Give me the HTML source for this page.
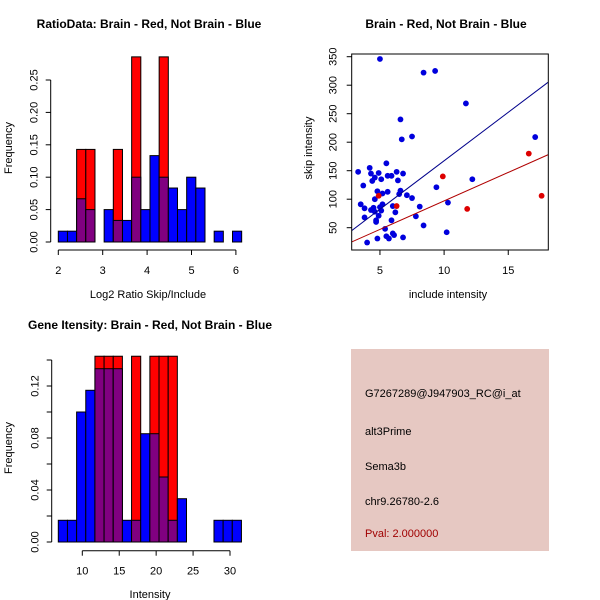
<!DOCTYPE html>
<html><head><meta charset="utf-8"><style>
html,body{margin:0;padding:0;background:#fff;}
svg{display:block;font-family:"Liberation Sans",sans-serif;}
</style></head><body>
<svg id="chart" width="600" height="600" xmlns="http://www.w3.org/2000/svg"></svg>
<script>
// ---- Panel 1 data: log2 ratio histogram ----
const ratioBinStart = 2.0;
const ratioBinWidth = 0.2065;
const ratioBlue = [0.0167,0.0167,0.0667,0.05,0,0.05,0.0333,0.0333,0.1,0.05,0.1333,0.1,0.0833,0.05,0.1,0.0833,0,0.0167,0,0.0167];
const ratioRed  = [0,0,0.1429,0.1429,0,0,0.1429,0,0.2857,0,0,0.2857,0,0,0,0,0,0,0,0];
const ratioXTicks = [2,3,4,5,6];
const ratioYTicks = [0,0.05,0.10,0.15,0.20,0.25];
const ratioYLabels = ["0.00","0.05","0.10","0.15","0.20","0.25"];
// ---- Panel 2 data: intensity histogram ----
const intBinStart = 6.75;
const intBinWidth = 1.24;
const intBlue = [0.0167,0.0167,0.1,0.1167,0.1333,0.1333,0.1333,0.0167,0.0167,0.0833,0.0833,0.05,0.0167,0.0333,0,0,0,0.0167,0.0167,0.0167];
const intRed  = [0,0,0,0,0.1429,0.1429,0.1429,0,0.1429,0,0.1429,0.1429,0.1429,0,0,0,0,0,0,0];
const intXTicks = [10,15,20,25,30];
const intYTicks = [0,0.04,0.08,0.12];
const intYLabels = ["0.00","0.04","0.08","0.12"];
// ---- Panel 3 data: scatter ----
const blueX = [5.0,8.4,9.3,11.7,17.1,6.6,6.7,7.5,5.5,3.3,4.2,4.9,5.6,5.9,6.3,6.8,4.3,4.6,4.4,5.1,6.4,3.7,4.8,5.6,6.6,6.5,5.2,7.1,7.5,4.6,3.5,5.2,3.8,4.5,4.3,4.6,5.1,5.0,6.0,8.1,4.9,3.8,6.2,7.8,4.7,4.7,5.9,9.4,12.2,10.3,8.4,5.4,6.0,6.1,5.5,5.7,4.8,6.8,4.0,10.2];
const blueY = [346,322,325,268,209,240,205,210,163,148,155,146,141,141,148,145,145,138,132,135,133,124,114,113,115,109,110,107,102,100,91,91,84,85,81,78,80,86,88,87,71,68,77,70,63,60,63,121,135,94,54,48,40,37,35,31,31,33,24,42];
const redX = [4.9,6.3,9.9,11.8,16.6,17.6];
const redY = [106,88,140,83,180,106];
const blueFit = [-2.6,17.0];  // intercept, slope
const redFit = [-3.0,10.0];
const scXTicks = [5,10,15];
const scYTicks = [50,100,150,200,250,300,350];

const NS="http://www.w3.org/2000/svg";
const svg=document.getElementById('chart');
function mk(tag,attrs,parent,name,text){
  const e=document.createElementNS(NS,tag);
  for(const k in attrs)e.setAttribute(k,attrs[k]);
  
  
  if(text!==undefined)e.textContent=text;
  (parent||svg).appendChild(e);return e;
}
function txt(x,y,s,opts,name){
  opts=opts||{};
  const a={x:x,y:y,'font-size':opts.size||11,'text-anchor':opts.anchor||'middle',fill:opts.fill||'#000'};
  if(opts.bold)a['font-weight']='bold';
  if(opts.rot)a.transform='rotate(-90 '+x+' '+y+')';
  return mk('text',a,svg,name,s);
}

function histogram(prefix,binStart,binW,blue,red,sx,sy,xTicks,yTicks,yLabels,axisY,axisX){
  const g=mk('g',{},svg,prefix+'-bars');
  for(let i=0;i<blue.length;i++){
    const x0=sx(binStart+i*binW),x1=sx(binStart+(i+1)*binW);
    const b=blue[i],r=red[i];
    if(r>0){mk('rect',{x:x0,y:sy(r),width:x1-x0,height:sy(0)-sy(r),fill:'#ff0000',stroke:'#000','stroke-width':1},g,prefix+'-red-bar');}
    if(b>0){
      if(b>r){mk('rect',{x:x0,y:sy(b),width:x1-x0,height:sy(0)-sy(b),fill:'#0000ff',stroke:'#000','stroke-width':1},g,prefix+'-blue-bar');}
      const m=Math.min(b,r);
      if(m>0){mk('rect',{x:x0,y:sy(m),width:x1-x0,height:sy(0)-sy(m),fill:'#800080',stroke:'#000','stroke-width':1},g,prefix+'-overlap-bar');}
    }
  }
  mk('line',{x1:sx(xTicks[0]),x2:sx(xTicks[xTicks.length-1]),y1:axisY,y2:axisY,stroke:'#000'},svg,prefix+'-x-axis');
  xTicks.forEach(t=>{mk('line',{x1:sx(t),x2:sx(t),y1:axisY,y2:axisY+5,stroke:'#000'},svg,prefix+'-x-tick');
    txt(sx(t),axisY+24,String(t),{},prefix+'-x-tick-label');});
  mk('line',{x1:axisX,x2:axisX,y1:sy(yTicks[0]),y2:sy(yTicks[yTicks.length-1]),stroke:'#000'},svg,prefix+'-y-axis');
  yTicks.forEach((t,i)=>{mk('line',{x1:axisX,x2:axisX-5,y1:sy(t),y2:sy(t),stroke:'#000'},svg,prefix+'-y-tick');
    txt(axisX-13,sy(t),yLabels[i],{rot:true},prefix+'-y-tick-label');});
}

// Panel 1
const sx1=v=>58.3+(v-2)*44.4, sy1=v=>242-v*648;
histogram('ratio-hist',ratioBinStart,ratioBinWidth,ratioBlue,ratioRed,sx1,sy1,ratioXTicks,ratioYTicks,ratioYLabels,250,50.7);
txt(149,28,'RatioData: Brain - Red, Not Brain - Blue',{bold:true,size:12},'ratio-hist-title');
txt(148,298,'Log2 Ratio Skip/Include',{},'ratio-hist-x-title');
txt(12,148,'Frequency',{rot:true},'ratio-hist-y-title');

// Panel 2
const sx2=v=>82.3+(v-10)*7.385, sy2=v=>542-v*1300;
histogram('intensity-hist',intBinStart,intBinWidth,intBlue,intRed,sx2,sy2,intXTicks,intYTicks,intYLabels,550.7,51.7);
mk('line',{x1:51.7,x2:46.7,y1:sy2(0.14),y2:sy2(0.14),stroke:'#000'},svg,'intensity-hist-y-tick');
mk('line',{x1:51.7,x2:51.7,y1:sy2(0.12),y2:sy2(0.14),stroke:'#000'},svg,'intensity-hist-y-axis-ext');
[0.02,0.06,0.10].forEach(t=>{mk('line',{x1:51.7,x2:46.7,y1:sy2(t),y2:sy2(t),stroke:'#000'},svg,'intensity-hist-y-minor-tick');});
txt(150,329,'Gene Itensity: Brain - Red, Not Brain - Blue',{bold:true,size:12},'intensity-hist-title');
txt(150,598,'Intensity',{},'intensity-hist-x-title');
txt(12,448,'Frequency',{rot:true},'intensity-hist-y-title');

// Panel 3
const sx3=v=>315.8+v*12.83, sy3=v=>256.2-v*0.57;
const L=351.7,R=548.3,T=54,B=250;
const cp=mk('clipPath',{id:'scClip'},svg,'scatter-clip');
mk('rect',{x:L,y:T,width:R-L,height:B-T},cp,'scatter-clip-rect');
const sg=mk('g',{'clip-path':'url(#scClip)'},svg,'scatter-marks');
blueX.forEach((x,i)=>{mk('circle',{cx:sx3(x),cy:sy3(blueY[i]),r:2.9,fill:'#0000dd'},sg,'blue-point');});
redX.forEach((x,i)=>{mk('circle',{cx:sx3(x),cy:sy3(redY[i]),r:2.9,fill:'#dd0000'},sg,'red-point');});
const xl=2.8,xr=18.1;
mk('line',{x1:sx3(xl),y1:sy3(blueFit[0]+blueFit[1]*xl),x2:sx3(xr),y2:sy3(blueFit[0]+blueFit[1]*xr),stroke:'#00008b','stroke-width':1},sg,'blue-fit-line');
mk('line',{x1:sx3(xl),y1:sy3(redFit[0]+redFit[1]*xl),x2:sx3(xr),y2:sy3(redFit[0]+redFit[1]*xr),stroke:'#b00000','stroke-width':1},sg,'red-fit-line');
mk('rect',{x:L,y:T,width:R-L,height:B-T,fill:'none',stroke:'#000'},svg,'scatter-box');
scXTicks.forEach(t=>{mk('line',{x1:sx3(t),x2:sx3(t),y1:B,y2:B+5,stroke:'#000'},svg,'scatter-x-tick');
  txt(sx3(t),B+24,String(t),{},'scatter-x-tick-label');});
scYTicks.forEach(t=>{mk('line',{x1:L,x2:L-5,y1:sy3(t),y2:sy3(t),stroke:'#000'},svg,'scatter-y-tick');
  txt(L-15,sy3(t),String(t),{rot:true},'scatter-y-tick-label');});
txt(446,28,'Brain - Red, Not Brain - Blue',{bold:true,size:12},'scatter-title');
txt(448,298,'include intensity',{},'scatter-x-title');
txt(312,148,'skip intensity',{rot:true},'scatter-y-title');

// Panel 4 info box
mk('rect',{x:351,y:349,width:198,height:202,fill:'#e6c8c2'},svg,'info-box');
txt(365,397,'G7267289@J947903_RC@i_at',{anchor:'start',size:11},'probe-id');
txt(365,435,'alt3Prime',{anchor:'start',size:11},'event-type');
txt(365,470,'Sema3b',{anchor:'start',size:11},'gene-name');
txt(365,505,'chr9.26780-2.6',{anchor:'start',size:11},'location');
txt(365,537,'Pval: 2.000000',{anchor:'start',size:11,fill:'#a00000'},'pvalue');
</script>
</body></html>
